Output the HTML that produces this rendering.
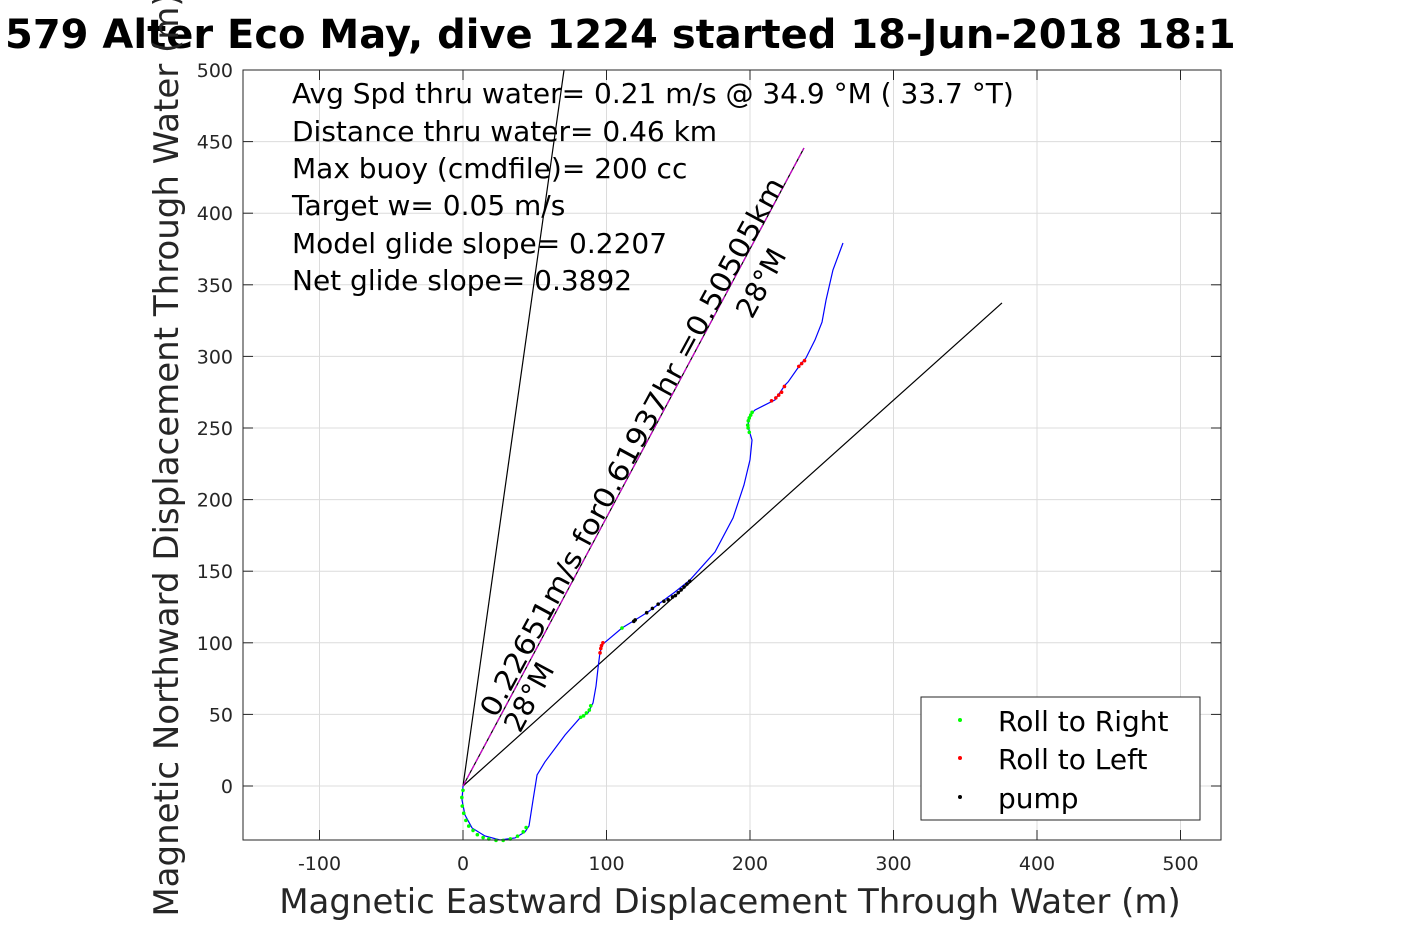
<!DOCTYPE html>
<html><head><meta charset="utf-8"><style>
html,body{margin:0;padding:0;background:#fff;overflow:hidden}
svg{display:block;font-family:"DejaVu Sans","Liberation Sans",sans-serif}
</style></head><body>
<svg id="chart" width="1417" height="945" xmlns="http://www.w3.org/2000/svg">
<g id="grid"></g>
<g id="lines"></g>
<g id="series"></g>
<rect x="243" y="70" width="978" height="770" fill="none" stroke="#262626" stroke-width="1"/>
<g id="ticks"></g>
<text x="5" y="48" font-size="40" font-weight="bold" fill="#000">579 Alter Eco May, dive 1224 started 18-Jun-2018 18:1</text>
<text x="730" y="913" font-size="34" fill="#262626" text-anchor="middle">Magnetic Eastward Displacement Through Water (m)</text>
<text transform="translate(178,455) rotate(-90)" font-size="34" fill="#262626" text-anchor="middle">Magnetic Northward Displacement Through Water (m)</text>
<g font-size="28" fill="#000">
<text x="292" y="103">Avg Spd thru water=  0.21 m/s @  34.9 °M ( 33.7 °T)</text>
<text x="292" y="141">Distance thru water=  0.46 km</text>
<text x="292" y="178">Max buoy (cmdfile)= 200 cc</text>
<text x="292" y="215">Target w= 0.05 m/s</text>
<text x="292" y="253">Model glide slope= 0.2207</text>
<text x="292" y="290">Net glide slope= 0.3892</text>
</g>
<text transform="translate(496,719) rotate(-61.6)" font-size="28" fill="#000" textLength="608" lengthAdjust="spacingAndGlyphs">0.22651m/s for0.61937hr =0.50505km</text>
<text transform="translate(520,734) rotate(-61.6)" font-size="28" fill="#000">28°M</text>
<text transform="translate(752,320) rotate(-61.6)" font-size="28" fill="#000">28°M</text>
<g>
<rect x="921" y="697" width="279" height="123" fill="#fff" stroke="#262626" stroke-width="1"/>
<circle cx="960" cy="720" r="2" fill="#00ff00"/>
<text x="998" y="731" font-size="28">Roll to Right</text>
<circle cx="960" cy="758" r="2" fill="#ff0000"/>
<text x="998" y="769" font-size="28">Roll to Left</text>
<circle cx="960" cy="797" r="2" fill="#000"/>
<text x="998" y="808" font-size="28">pump</text>
</g>
</svg>
<script>
const xTicks=[-100,0,100,200,300,400,500];
const yTicks=[0,50,100,150,200,250,300,350,400,450,500];
const trackX=[0,-0.7,1.4,6.3,15.3,25.8,36.2,43.2,46,48.8,51.6,57.1,71.1,81.5,87.1,90.6,92.7,94.1,95.5,97.6,110.8,119.9,128.9,137.3,147.7,158.2,175.6,188.2,195.8,200,201.4,199.3,198.6,200,203.5,217.4,224.4,226.5,234.8,239,245.3,250.2,253,257.8,264.8];
const trackY=[0,-9.8,-20.3,-29.3,-34.9,-37.7,-36.3,-32.1,-27.9,-9.8,7.7,16.8,35.6,47.5,51,58,69.8,82.4,93.6,99.2,110.3,115.9,121.5,127.8,135.5,143.9,163.4,187.2,210.2,227.7,241.6,248.6,255.6,259.1,262.6,269.6,280,282.1,294,298.9,311.5,324,339.4,360.3,379.2];
const rightX=[0,-0.8,-0.5,0.5,2,4,7,10,14,18,23,28,33,38,42,44,82,84,86,88,89,110.8,199.5,198.7,198.4,198.8,199.5,200.5,201.5];
const rightY=[-3,-8,-14,-19,-24,-28,-31,-34,-36,-37,-38,-38,-37,-35,-32,-29,48,49,51,53,56,110.3,247,250,252,255,257,259,261];
const leftX=[95.5,96,96.5,97.5,215,218,220,222,224,234,236,238];
const leftY=[93,96,98,100,269,271,273,275,279,293,295,297];
const pumpX=[119,120,128,132,136,140,143,146,148,150,152,154,156,158];
const pumpY=[115,116,121,124,127,129,130,132,133,135,137,139,141,143];
const guideEndX=[70.4,375.6];
const guideEndY=[500,337.3];
const currentEndX=[237.6];
const currentEndY=[445.5];
const X0=463,XS=1.435,Y0=786,YS=1.432;
const sx=v=>X0+v*XS, sy=v=>Y0-v*YS;
const NS="http://www.w3.org/2000/svg";
function mk(tag,parent,attrs){const e=document.createElementNS(NS,tag);for(const k in attrs)e.setAttribute(k,attrs[k]);document.getElementById(parent).appendChild(e);return e;}
xTicks.forEach(t=>{
 const g=mk('line','grid',{x1:sx(t),x2:sx(t),y1:70,y2:840,stroke:'#dcdcdc','stroke-width':1});
 
 
 const a=mk('line','ticks',{x1:sx(t),x2:sx(t),y1:840,y2:830,stroke:'#262626'});
 
 
 const b=mk('line','ticks',{x1:sx(t),x2:sx(t),y1:70,y2:80,stroke:'#262626'});
 
 
 const l=mk('text','ticks',{x:sx(t),y:870,'font-size':19,fill:'#262626','text-anchor':'middle'});
 l.textContent=t;
 
 
});
yTicks.forEach(t=>{
 const g=mk('line','grid',{x1:243,x2:1221,y1:sy(t),y2:sy(t),stroke:'#dcdcdc','stroke-width':1});
 
 
 const a=mk('line','ticks',{x1:243,x2:253,y1:sy(t),y2:sy(t),stroke:'#262626'});
 
 
 const b=mk('line','ticks',{x1:1211,x2:1221,y1:sy(t),y2:sy(t),stroke:'#262626'});
 
 
 const l=mk('text','ticks',{x:233,y:sy(t)+7,'font-size':19,fill:'#262626','text-anchor':'end'});
 l.textContent=t;
 
 
});
guideEndX.forEach((v,i)=>{
 const e=mk('line','lines',{x1:sx(0),y1:sy(0),x2:sx(v),y2:sy(guideEndY[i]),stroke:'#000','stroke-width':1.2});
 
 
});
currentEndX.forEach((v,i)=>{
 const e=mk('line','lines',{x1:sx(0),y1:sy(0),x2:sx(v),y2:sy(currentEndY[i]),stroke:'#000','stroke-width':1.2});
 
 
 const m=mk('line','lines',{x1:sx(0),y1:sy(0),x2:sx(v),y2:sy(currentEndY[i]),stroke:'#cc00cc','stroke-width':1.2,'stroke-dasharray':'6 3'});
 
 
});
const tr=mk('polyline','series',{points:trackX.map((v,i)=>sx(v)+','+sy(trackY[i])).join(' '),fill:'none',stroke:'#0000ff','stroke-width':1.2});


function dots(xs,ys,col,name){xs.forEach((v,i)=>{
 const c=mk('circle','series',{cx:sx(v),cy:sy(ys[i]),r:1.8,fill:col});
 
 
});}
dots(rightX,rightY,'#00ff00','roll-right-point');
dots(leftX,leftY,'#ff0000','roll-left-point');
dots(pumpX,pumpY,'#000','pump-point');
</script>
</body></html>
